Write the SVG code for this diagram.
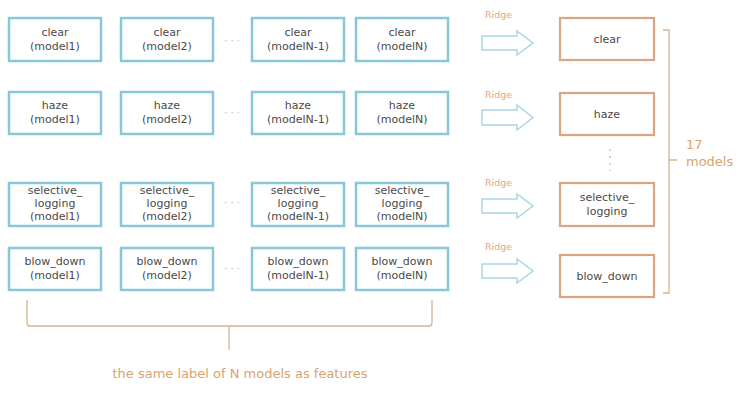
<svg xmlns="http://www.w3.org/2000/svg" width="740" height="404" viewBox="0 0 740 404">
<style>
.bb{fill:#fff;stroke:#86c8d6;stroke-width:2.5}
.ob{fill:#fff;stroke:#d9a684;stroke-width:2.2}
.t{font-family:"DejaVu Sans",sans-serif;font-size:11px;fill:#4a4a4a;text-anchor:middle}
.r{font-family:"DejaVu Sans",sans-serif;font-size:9.5px;fill:#e0a878}
.o{font-family:"DejaVu Sans",sans-serif;font-size:13px;fill:#d9a46c}
.ar{fill:#fff;stroke:#a9d6e4;stroke-width:1.5}
.ln{fill:none;stroke:#d9b48f;stroke-width:1.3}
.dt{font-family:"DejaVu Sans",sans-serif;font-size:10px;fill:#bbbbbb}
</style>
<rect width="740" height="404" fill="#fff"/>
<g id="row-clear">
<rect class="bb" x="9" y="18" width="92" height="43"/><text class="t" x="55" y="36">clear</text><text class="t" x="55" y="50">(model1)</text>
<rect class="bb" x="121" y="18" width="92" height="43"/><text class="t" x="167" y="36">clear</text><text class="t" x="167" y="50">(model2)</text>
<rect class="bb" x="252" y="18" width="92" height="43"/><text class="t" x="298" y="36">clear</text><text class="t" x="298" y="50">(modelN-1)</text>
<rect class="bb" x="356" y="18" width="92" height="43"/><text class="t" x="402" y="36">clear</text><text class="t" x="402" y="50">(modelN)</text>
<text class="dt" x="232" y="44" text-anchor="middle">· · ·</text>
</g>
<g id="row-haze">
<rect class="bb" x="9" y="92" width="92" height="42"/><text class="t" x="55" y="109">haze</text><text class="t" x="55" y="123">(model1)</text>
<rect class="bb" x="121" y="92" width="92" height="42"/><text class="t" x="167" y="109">haze</text><text class="t" x="167" y="123">(model2)</text>
<rect class="bb" x="252" y="92" width="92" height="42"/><text class="t" x="298" y="109">haze</text><text class="t" x="298" y="123">(modelN-1)</text>
<rect class="bb" x="356" y="92" width="92" height="42"/><text class="t" x="402" y="109">haze</text><text class="t" x="402" y="123">(modelN)</text>
<text class="dt" x="232" y="116" text-anchor="middle">· · ·</text>
</g>
<g id="row-selective">
<rect class="bb" x="9" y="183" width="92" height="43"/><text class="t" x="55" y="194">selective_</text><text class="t" x="55" y="207">logging</text><text class="t" x="55" y="220">(model1)</text>
<rect class="bb" x="121" y="183" width="92" height="43"/><text class="t" x="167" y="194">selective_</text><text class="t" x="167" y="207">logging</text><text class="t" x="167" y="220">(model2)</text>
<rect class="bb" x="252" y="183" width="92" height="43"/><text class="t" x="298" y="194">selective_</text><text class="t" x="298" y="207">logging</text><text class="t" x="298" y="220">(modelN-1)</text>
<rect class="bb" x="356" y="183" width="92" height="43"/><text class="t" x="402" y="194">selective_</text><text class="t" x="402" y="207">logging</text><text class="t" x="402" y="220">(modelN)</text>
<text class="dt" x="232" y="206" text-anchor="middle">· · ·</text>
</g>
<g id="row-blow">
<rect class="bb" x="9" y="248" width="92" height="42"/><text class="t" x="55" y="265">blow_down</text><text class="t" x="55" y="279">(model1)</text>
<rect class="bb" x="121" y="248" width="92" height="42"/><text class="t" x="167" y="265">blow_down</text><text class="t" x="167" y="279">(model2)</text>
<rect class="bb" x="252" y="248" width="92" height="42"/><text class="t" x="298" y="265">blow_down</text><text class="t" x="298" y="279">(modelN-1)</text>
<rect class="bb" x="356" y="248" width="92" height="42"/><text class="t" x="402" y="265">blow_down</text><text class="t" x="402" y="279">(modelN)</text>
<text class="dt" x="232" y="272" text-anchor="middle">· · ·</text>
</g>
<g id="outputs">
<rect class="ob" x="560" y="18" width="94" height="42"/><text class="t" x="607" y="43">clear</text>
<rect class="ob" x="560" y="93" width="94" height="42"/><text class="t" x="607" y="118">haze</text>
<rect class="ob" x="560" y="183" width="94" height="43"/><text class="t" x="607" y="201">selective_</text><text class="t" x="607" y="215">logging</text>
<rect class="ob" x="560" y="255" width="94" height="42"/><text class="t" x="607" y="280">blow_down</text>
<line x1="610" y1="149" x2="610" y2="171" stroke="#c4c4c4" stroke-width="1.5" stroke-dasharray="2 5"/>
</g>
<g id="connectors">
<path class="ar" d="M482,36 H517 V31 L533,43 L517,55 V50 H482 Z"/>
<path class="ar" d="M482,110 H517 V105 L533,117.5 L517,130 V125 H482 Z"/>
<path class="ar" d="M482,199 H517 V194 L533,206 L517,218 V213 H482 Z"/>
<path class="ar" d="M482,264 H517 V259 L533,271 L517,283 V278 H482 Z"/>
<text class="r" x="485" y="18">Ridge</text>
<text class="r" x="485" y="98">Ridge</text>
<text class="r" x="485" y="186">Ridge</text>
<text class="r" x="485" y="250">Ridge</text>
<path class="ln" d="M663,30 H669 V293 H663 M669,160 H677"/>
<path class="ln" d="M27,300 V323 Q27,326 30,326 H229 V350 M229,326 H429 Q432,326 432,323 V300"/>
</g>
<g id="labels">
<text class="o" x="686" y="149">17</text>
<text class="o" x="686" y="166">models</text>
<text class="o" x="240" y="378" text-anchor="middle">the same label of N models as features</text>
</g>
</svg>
